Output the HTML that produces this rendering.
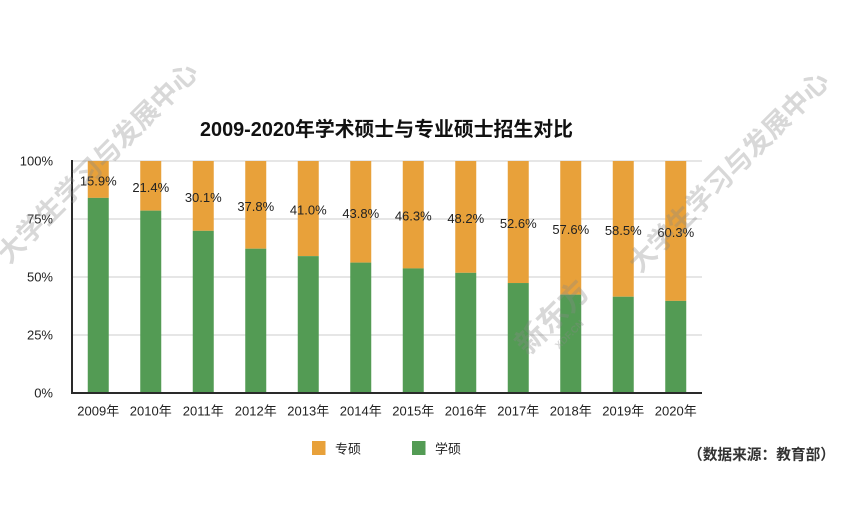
<!DOCTYPE html>
<html>
<head>
<meta charset="utf-8">
<style>
html,body{margin:0;padding:0;background:#fff;}
svg{display:block;}
text{font-family:"Liberation Sans","Noto Sans CJK SC",sans-serif;}
</style>
</head>
<body>
<svg width="843" height="522" viewBox="0 0 843 522" xmlns="http://www.w3.org/2000/svg">
<rect width="843" height="522" fill="#fff"/>
<!-- title -->
<text x="200" y="130" textLength="373" lengthAdjust="spacingAndGlyphs" dominant-baseline="central" font-size="20" font-weight="bold" fill="#111">2009-2020年学术硕士与专业硕士招生对比</text>
<!-- gridlines -->
<g stroke="#d6d6d6" stroke-width="1.2">
<line x1="72" y1="161" x2="702" y2="161"/>
<line x1="72" y1="219" x2="702" y2="219"/>
<line x1="72" y1="277" x2="702" y2="277"/>
<line x1="72" y1="335" x2="702" y2="335"/>
</g>
<!-- y labels -->
<g font-size="13" fill="#222" text-anchor="end" dominant-baseline="central">
<text x="53" y="161">100%</text>
<text x="53" y="219">75%</text>
<text x="53" y="277">50%</text>
<text x="53" y="335">25%</text>
<text x="53" y="393">0%</text>
</g>
<!-- bars -->
<g id="bars"></g>
<g stroke="#2a2a2a" stroke-width="2">
<line x1="72" y1="160" x2="72" y2="394"/>
<line x1="71" y1="393" x2="702" y2="393"/>
</g>
<g id="labels" font-size="13" fill="#222" text-anchor="middle" dominant-baseline="central"></g>
<g id="years" font-size="13" fill="#222" text-anchor="middle" dominant-baseline="central"></g>
<!-- legend -->
<rect x="312" y="441" width="13.5" height="14" fill="#E8A13A"/>
<text x="335" y="449" font-size="13" fill="#222" dominant-baseline="central">专硕</text>
<rect x="412" y="441" width="13.5" height="14" fill="#539B54"/>
<text x="435" y="449" font-size="13" fill="#222" dominant-baseline="central">学硕</text>
<!-- source -->
<text x="688" y="455" textLength="147" lengthAdjust="spacingAndGlyphs" font-size="15" font-weight="bold" fill="#333" dominant-baseline="central">（数据来源：教育部）</text>
<!-- watermarks -->
<g fill="#8a8a8a" fill-opacity="0.33" font-weight="bold">
<text x="0" y="0" font-size="27" text-anchor="middle" dominant-baseline="central" transform="translate(98,163) rotate(-45)" font-family="'Noto Sans CJK SC',sans-serif">大学生学习与发展中心</text>
<text x="0" y="0" font-size="27" text-anchor="middle" dominant-baseline="central" transform="translate(729,172) rotate(-45)" font-family="'Noto Sans CJK SC',sans-serif">大学生学习与发展中心</text>
<text x="0" y="0" font-size="30" text-anchor="middle" dominant-baseline="central" transform="translate(553,318) rotate(-45)" font-family="'Noto Sans CJK SC',sans-serif">新东方</text>
<text x="0" y="0" font-size="10" text-anchor="middle" dominant-baseline="central" transform="translate(570,335) rotate(-45)" font-family="'Liberation Sans',sans-serif">XDF.CN</text>
</g>
</svg>
<script>
(function(){
var ns="http://www.w3.org/2000/svg";
var vals=[15.9,21.4,30.1,37.8,41.0,43.8,46.3,48.2,52.6,57.6,58.5,60.3];
var bars=document.getElementById("bars"),labels=document.getElementById("labels"),years=document.getElementById("years");
for(var i=0;i<12;i++){
 var cx=72+26.25+i*52.5;
 var yb=161+vals[i]/100*232;
 var r1=document.createElementNS(ns,"rect");
 r1.setAttribute("x",cx-10.5);r1.setAttribute("y",161);r1.setAttribute("width",21);r1.setAttribute("height",yb-161);r1.setAttribute("fill","#E8A13A");
 bars.appendChild(r1);
 var r2=document.createElementNS(ns,"rect");
 r2.setAttribute("x",cx-10.5);r2.setAttribute("y",yb);r2.setAttribute("width",21);r2.setAttribute("height",393-yb);r2.setAttribute("fill","#539B54");
 bars.appendChild(r2);
 var t=document.createElementNS(ns,"text");
 t.setAttribute("x",cx);t.setAttribute("y",(161+yb)/2+1.5);
 t.textContent=vals[i].toFixed(1)+"%";
 labels.appendChild(t);
 var y=document.createElementNS(ns,"text");
 y.setAttribute("x",cx);y.setAttribute("y",411);
 y.textContent=(2009+i)+"年";
 years.appendChild(y);
}
})();
</script>
</body>
</html>
